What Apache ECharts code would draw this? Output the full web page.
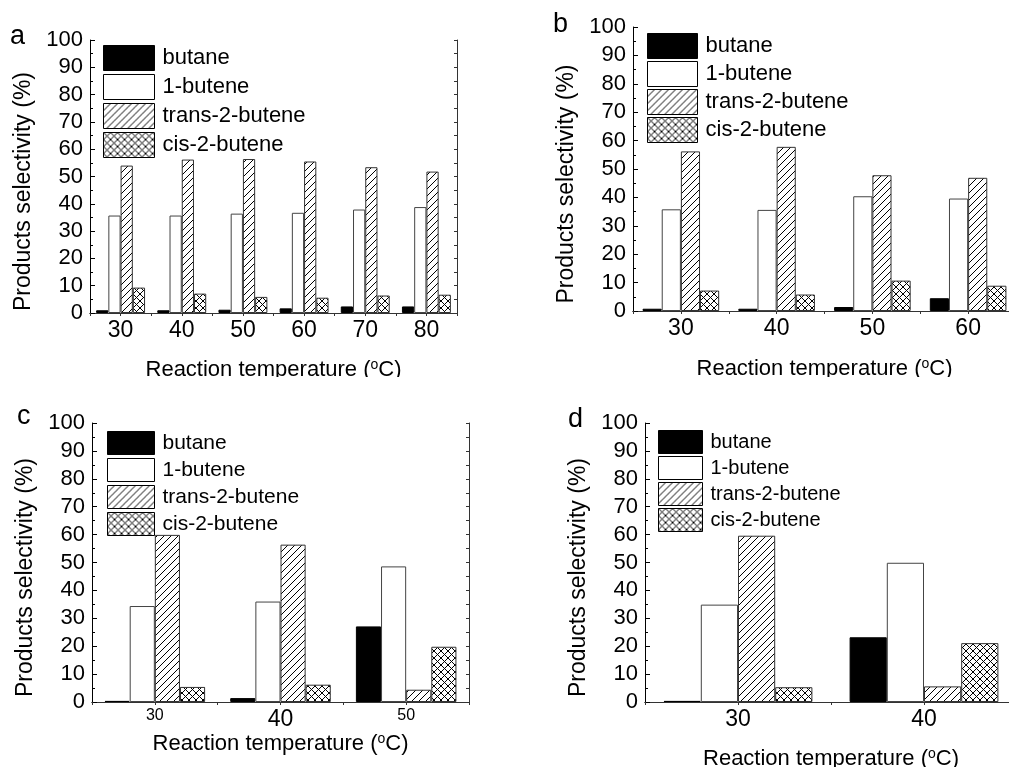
<!DOCTYPE html>
<html><head><meta charset="utf-8">
<script src="https://cdn.jsdelivr.net/npm/echarts@6/dist/echarts.min.js"></script>
<style>html,body{margin:0;padding:0;background:#fff}#c{width:1009px;height:767px}</style>
</head><body><div id="c"></div>
<script>
const seriesNames = ['butane', '1-butene', 'trans-2-butene', 'cis-2-butene'];
const yMin = 0, yMax = 100, yStep = 10;
const panelLetters = ['a', 'b', 'c', 'd'];
const yTitle = 'Products selectivity (%)';

const catsA = ['30', '40', '50', '60', '70', '80'];
const butaneA = [1.0, 1.0, 1.2, 1.7, 2.4, 2.4];
const butene1A = [35.7, 35.7, 36.4, 36.7, 37.9, 38.8];
const trans2A = [54.0, 56.2, 56.4, 55.5, 53.4, 51.8];
const cis2A = [9.3, 7.1, 5.9, 5.6, 6.4, 6.7];

const catsB = ['30', '40', '50', '60'];
const butaneB = [0.8, 0.8, 1.4, 4.5];
const butene1B = [35.8, 35.6, 40.4, 39.6];
const trans2B = [56.2, 57.8, 47.8, 46.9];
const cis2B = [7.2, 5.8, 10.7, 8.9];

const catsC = ['30', '40', '50'];
const butaneC = [0.4, 1.4, 27.1];
const butene1C = [34.4, 36.0, 48.6];
const trans2C = [59.9, 56.4, 4.4];
const cis2C = [5.4, 6.2, 19.8];

const catsD = ['30', '40'];
const butaneD = [0.4, 23.2];
const butene1D = [34.9, 49.9];
const trans2D = [59.6, 5.6];
const cis2D = [5.3, 21.1];

const F = '"Liberation Sans", Arial, sans-serif';

function hatch(cross) {
  const s = 7, cv = document.createElement('canvas');
  cv.width = s; cv.height = s;
  const g = cv.getContext('2d');
  g.fillStyle = '#fff'; g.fillRect(0, 0, s, s);
  g.strokeStyle = '#000'; g.lineWidth = 1;
  g.beginPath();
  g.moveTo(-1, s + 1); g.lineTo(s + 1, -1);
  g.moveTo(-1, 1); g.lineTo(1, -1);
  g.moveTo(s - 1, s + 1); g.lineTo(s + 1, s - 1);
  if (cross) {
    g.moveTo(-1, -1); g.lineTo(s + 1, s + 1);
    g.moveTo(s - 1, -1); g.lineTo(s + 1, 1);
    g.moveTo(-1, s - 1); g.lineTo(1, s + 1);
  }
  g.stroke();
  return cv;
}
const barStyles = [
  { color: '#000', borderColor: '#000', borderWidth: 1 },
  { color: '#fff', borderColor: '#444', borderWidth: 1 },
  { color: { image: hatch(false), repeat: 'repeat' }, borderColor: '#333', borderWidth: 1 },
  { color: { image: hatch(true), repeat: 'repeat' }, borderColor: '#333', borderWidth: 1 }
];

const panels = [
  { cats: catsA, vals: [butaneA, butene1A, trans2A, cis2A],
    grid: { left: 90, top: 40, width: 367, height: 273 },
    legend: { left: 103, top: 45, w: 51, h: 25, gap: 3, fs: 22 },
    xfs: 23, tickMargin: 6, xGap: 45, letter: { x: 10, y: 23 } },
  { cats: catsB, vals: [butaneB, butene1B, trans2B, cis2B],
    grid: { left: 633, top: 27, width: 383, height: 284 },
    legend: { left: 647, top: 33, w: 50, h: 25, gap: 2, fs: 22 },
    xfs: 23, tickMargin: 6, xGap: 46, letter: { x: 553, y: 11 } },
  { cats: catsC, vals: [butaneC, butene1C, trans2C, cis2C],
    grid: { left: 92, top: 423, width: 377, height: 279 },
    legend: { left: 107, top: 431, w: 47, h: 23, gap: 3, fs: 21 },
    xfs: 16, bigLabel: '40', xfsBig: 23, tickMargin: 6, xGap: 26, letter: { x: 17, y: 403 } },
  { cats: catsD, vals: [butaneD, butene1D, trans2D, cis2D],
    grid: { left: 645, top: 423, width: 372, height: 279 },
    legend: { left: 658, top: 430, w: 44, h: 23, gap: 2, fs: 20 },
    xfs: 23, tickMargin: 6, xGap: 45, letter: { x: 568, y: 406 } }
];

const grids = [], xAxes = [], yAxes = [], series = [], legends = [], graphics = [];
panels.forEach((p, gi) => {
  grids.push(Object.assign({ containLabel: false, outerBoundsMode: 'none' }, p.grid));
  xAxes.push({
    type: 'category', gridIndex: gi, data: p.cats, position: 'bottom', boundaryGap: true,
    axisLine: { show: true, onZero: false, lineStyle: { color: '#000', width: 1 } },
    axisTick: { show: false },
    axisLabel: {
      interval: 0, margin: p.tickMargin, color: '#000', fontFamily: F, fontSize: p.xfs,
      formatter: v => (p.bigLabel && v === p.bigLabel) ? '{big|' + v + '}' : '{n|' + v + '}',
      rich: { n: { fontSize: p.xfs, fontFamily: F, color: '#000' },
              big: { fontSize: p.xfsBig || p.xfs, fontFamily: F, color: '#000' } }
    },
    name: 'Reaction temperature ({sup|o}C)', nameLocation: 'middle', nameGap: p.xGap,
    nameTextStyle: { fontSize: 22, fontFamily: F, color: '#000',
      rich: { sup: { fontSize: 14, fontFamily: F, color: '#000', verticalAlign: 'top', lineHeight: 24 } } }
  });
  const c0 = Number(p.cats[0]), c1 = Number(p.cats[p.cats.length - 1]);
  xAxes.push({
    type: 'value', gridIndex: gi, position: 'top', min: c0 - 5, max: c1 + 5, interval: 5,
    axisLine: { show: true, lineStyle: { color: '#333', width: 1 } },
    axisTick: { show: true, inside: true, length: 3, lineStyle: { color: '#333' } },
    axisLabel: { show: false }, splitLine: { show: false }
  });
  yAxes.push({
    type: 'value', gridIndex: gi, position: 'left', min: yMin, max: yMax, interval: yStep,
    axisLine: { show: true, lineStyle: { color: '#000', width: 1 } },
    axisTick: { show: true, inside: true, length: 5, lineStyle: { color: '#000' } },
    minorTick: { show: true, splitNumber: 2, length: 3, lineStyle: { color: '#000' } },
    splitLine: { show: false },
    axisLabel: { color: '#000', fontFamily: F, fontSize: 22, margin: 7 },
    name: yTitle, nameLocation: 'middle', nameGap: 55, nameRotate: 90,
    nameTextStyle: { fontSize: 23, fontFamily: F, color: '#000', padding: [0, 30, 0, 0] }
  });
  yAxes.push({
    type: 'value', gridIndex: gi, position: 'right', min: yMin, max: yMax, interval: yStep / 2,
    axisLine: { show: true, lineStyle: { color: '#333', width: 1 } },
    axisTick: { show: true, inside: true, length: 3, lineStyle: { color: '#333' } },
    axisLabel: { show: false }, splitLine: { show: false }
  });
  seriesNames.forEach((n, si) => {
    series.push({
      type: 'bar', name: n, xAxisIndex: gi * 2, yAxisIndex: gi * 2, data: p.vals[si],
      barGap: '0%', barCategoryGap: '20%', itemStyle: barStyles[si], silent: true
    });
  });
  legends.push({
    orient: 'vertical', left: p.legend.left, top: p.legend.top, padding: 0,
    itemWidth: p.legend.w, itemHeight: p.legend.h, itemGap: p.legend.gap, icon: 'rect',
    selectedMode: false, data: seriesNames,
    itemStyle: { borderColor: '#000', borderWidth: 1 },
    textStyle: { fontSize: p.legend.fs, fontFamily: F, color: '#000', padding: [0, 0, 0, 3] }
  });
  graphics.push({
    type: 'text', left: p.letter.x, top: p.letter.y, z: 100,
    style: { text: panelLetters[gi], font: '27px ' + F, fill: '#000' }
  });
});
graphics.push({ type: 'rect', left: 0, top: 377, z: 90, shape: { width: 1009, height: 16 }, style: { fill: '#fff' }, silent: true });

const chart = echarts.init(document.getElementById('c'), null, { renderer: 'canvas' });
chart.setOption({
  animation: false, backgroundColor: '#fff',
  grid: grids, xAxis: xAxes, yAxis: yAxes, series: series, legend: legends, graphic: graphics
});
</script></body></html>
